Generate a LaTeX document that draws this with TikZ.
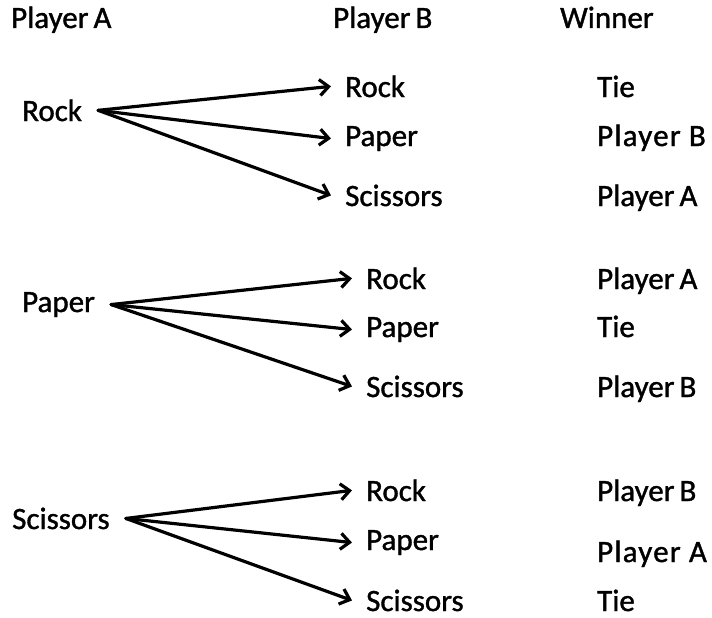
\documentclass[tikz,border=0pt]{standalone}
\usepackage{fontspec}
\setmainfont{Carlito}[FakeBold=1.2]
\newfontfamily\widefont{Carlito}[FakeBold=1.2,LetterSpace=4]
\usetikzlibrary{arrows.meta}
\begin{document}
\begin{tikzpicture}[x=1pt,y=-1pt,
  lbl/.style={anchor=base west,inner sep=0pt,font=\fontsize{31}{36}\selectfont},
  wide/.style={lbl,font=\fontsize{31}{36}\selectfont\widefont},
  arr/.style={-{Straight Barb[length=9pt,width=16pt,line width=3.2pt]},line width=3.2pt,line cap=round}]
\useasboundingbox (0,0) rectangle (712,618);
% column headings
\node[lbl] (hA) at (11,28) {Player\hspace{-2pt} A};
\node[lbl] (hB) at (333,28) {Player\hspace{-2pt} B};
\node[lbl] (hW) at (560,28) {Winner};
% Player A plays Rock
\node[lbl] (a1) at (22,121) {Rock};
\node[lbl] (b11) at (345,97) {Rock};
\node[lbl] (b12) at (345,146) {Paper};
\node[lbl] (b13) at (345,206) {Scissors};
\node[lbl] (w11) at (597,97) {Tie};
\node[wide] (w12) at (597,146) {Player B};
\node[lbl] (w13) at (597,206) {Player\hspace{-2pt} A};
% Player A plays Paper
\node[lbl] (a2) at (22,312) {Paper};
\node[lbl] (b21) at (366,289) {Rock};
\node[lbl] (b22) at (366,337) {Paper};
\node[lbl] (b23) at (366,397) {Scissors};
\node[lbl] (w21) at (597,289) {Player\hspace{-2pt} A};
\node[lbl] (w22) at (597,337) {Tie};
\node[lbl] (w23) at (597,397) {Player\hspace{-2pt} B};
% Player A plays Scissors
\node[lbl] (a3) at (12,529) {Scissors};
\node[lbl] (b31) at (366,501) {Rock};
\node[lbl] (b32) at (366,550) {Paper};
\node[lbl] (b33) at (366,611) {Scissors};
\node[lbl] (w31) at (597,501) {Player\hspace{-2pt} B};
\node[wide] (w32) at (597,562) {Player A};
\node[lbl] (w33) at (597,611) {Tie};
% branching points
\coordinate (f1) at ([xshift=16pt]a1.east);
\coordinate (f2) at ([xshift=16pt]a2.east);
\coordinate (f3) at ([xshift=16pt]a3.east);
\foreach \g in {1,2,3}{
  \foreach \k in {1,2,3}{
    \draw[arr] (f\g) -- ([xshift=-14pt]b\g\k.west);
  }
}
\end{tikzpicture}
\end{document}
